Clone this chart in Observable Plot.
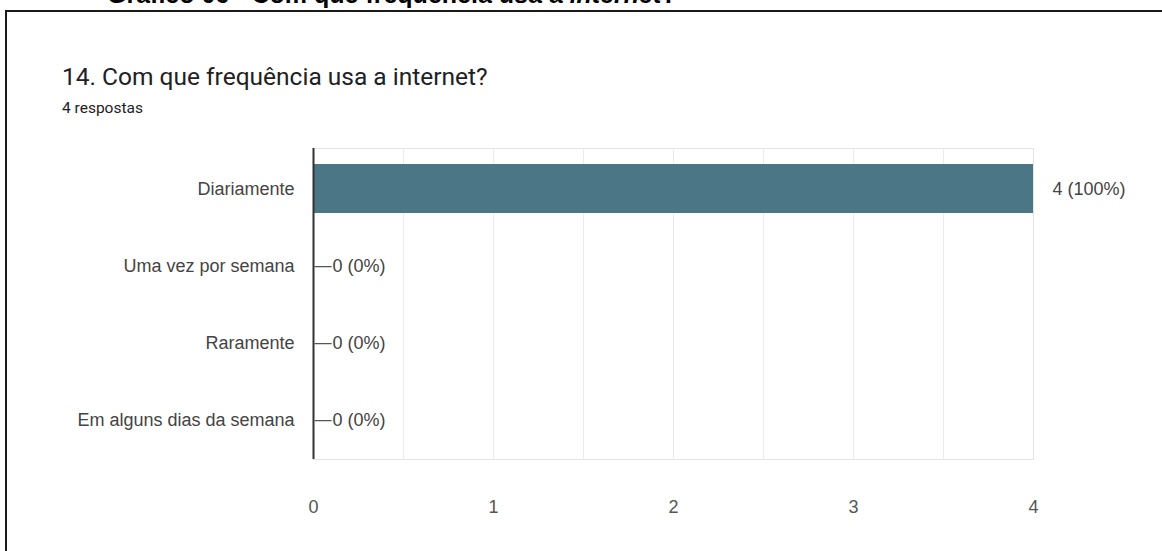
<!DOCTYPE html>
<html>
<head>
<meta charset="utf-8">
<script src="https://cdn.jsdelivr.net/npm/d3@7"></script>
<script src="https://cdn.jsdelivr.net/npm/@observablehq/plot@0.6"></script>
<style>
  html, body { margin: 0; padding: 0; background: #fff; }
  body { width: 1162px; height: 551px; position: relative; overflow: hidden; }
  #caption { position: absolute; left: 107px; top: -20px; font-family: "Liberation Sans", Arial, sans-serif; font-weight: bold; font-size: 25px; line-height: 29px; color: #000; white-space: nowrap; }
  #frame { position: absolute; left: 5px; top: 10px; width: 1300px; height: 700px; border: 2px solid #1a1a1a; box-sizing: border-box; }
  #title { position: absolute; left: 62px; top: 63px; font-family: Roboto, sans-serif; font-size: 24.5px; line-height: 28px; color: #202124; white-space: nowrap; }
  #subtitle { position: absolute; left: 62px; top: 99px; font-family: Roboto, sans-serif; font-size: 15.5px; line-height: 18px; color: #202124; white-space: nowrap; }
  #chart { position: absolute; left: 0; top: 130px; }
</style>
</head>
<body>
<div id="caption">Gráfico 06 - Com que frequência usa a <i>internet</i>?</div>
<div id="frame"></div>
<div id="title">14. Com que frequência usa a internet?</div>
<div id="subtitle">4 respostas</div>
<div id="chart"></div>
<script>
const categories = ["Diariamente", "Uma vez por semana", "Raramente", "Em alguns dias da semana"];
const counts = [4, 0, 0, 0];
const totalResponses = 4;
const majorTicks = [0, 1, 2, 3, 4];
const gridTicks = [0, 0.5, 1, 1.5, 2, 2.5, 3, 3.5, 4];

const data = categories.map((c, i) => ({
  category: c,
  value: counts[i],
  label: `${counts[i]} (${Math.round(counts[i] / totalResponses * 100)}%)`
}));

const chart = Plot.plot({
  width: 1162,
  height: 400,
  marginLeft: 313,
  marginRight: 129,
  marginTop: 18,
  marginBottom: 71,
  style: { fontFamily: "'Liberation Sans', Arial, sans-serif", fontSize: "18px", color: "#444", background: "transparent" },
  x: { domain: [0, 4], label: null },
  y: { domain: categories, paddingInner: 0.37, paddingOuter: 0.19, label: null },
  marks: [
    Plot.ruleX(gridTicks, { stroke: "#ececec", strokeWidth: 1 }),
    Plot.frame({ stroke: "#e4e4e4", strokeWidth: 1 }),
    Plot.barX(data, { x: "value", y: "category", fill: "#4a7686" }),
    Plot.ruleX([0], { stroke: "#333", strokeWidth: 2 }),
    Plot.text(data.filter(d => d.value === 0), { x: "value", y: "category", text: () => "—", textAnchor: "start", dx: 1, fontSize: 17, fill: "#555" }),
    Plot.text(data, { x: "value", y: "category", text: "label", textAnchor: "start", dx: 19, fontSize: 18, fill: "#444" }),
    Plot.axisX(majorTicks, { tickSize: 0, tickPadding: 41, fontSize: 18, fill: "#555", tickFormat: d => String(d), label: null }),
    Plot.axisY({ tickSize: 0, tickPadding: 19, fontSize: 18, fill: "#444", label: null })
  ]
});
document.getElementById("chart").appendChild(chart);
</script>
</body>
</html>
